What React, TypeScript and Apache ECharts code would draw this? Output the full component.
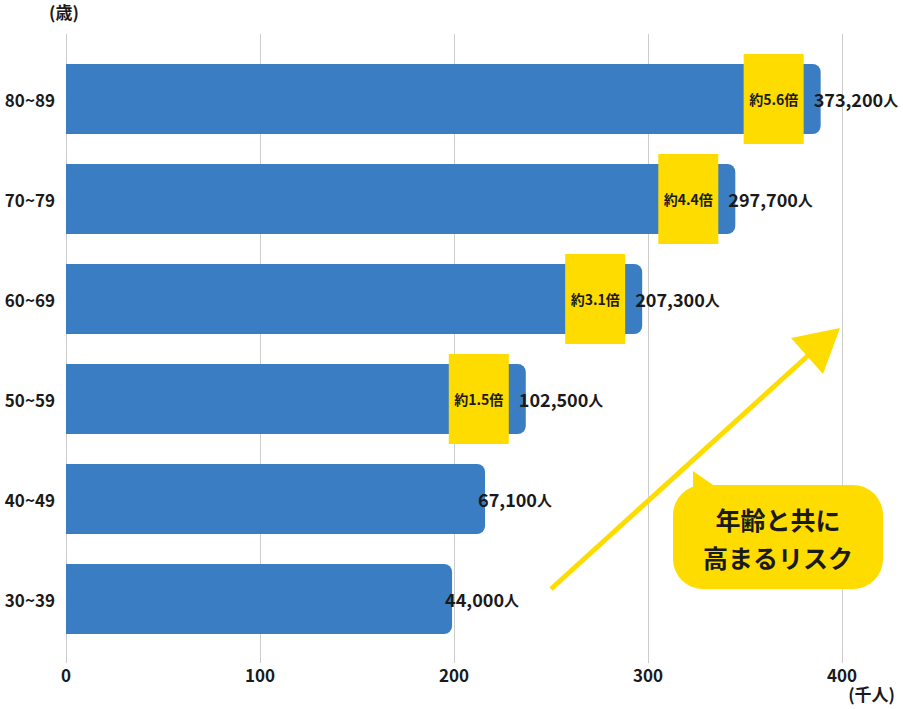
import React, { useEffect, useRef } from 'react';
import * as echarts from 'echarts';

const categories = ['30~39', '40~49', '50~59', '60~69', '70~79', '80~89'];
// bar lengths as drawn on the 千人 axis
const barValues = [199, 216, 237, 297, 345, 389];
const valueLabels = ['44,000', '67,100', '102,500', '207,300', '297,700', '373,200'];
const ratioLabels = ['', '', '約1.5倍', '約3.1倍', '約4.4倍', '約5.6倍'];
const xTicks = [0, 100, 200, 300, 400];

const FONT = '"Noto Sans CJK JP", "Noto Sans", sans-serif';
const BLUE = '#3a7dc2';
const YELLOW = '#ffdc00';
const TEXT = '#1a1a1a';

const App: React.FC = () => {
  const chartRef = useRef<HTMLDivElement>(null);

  useEffect(() => {
    if (!chartRef.current) return;
    const chart = echarts.init(chartRef.current, undefined, { renderer: 'svg' });

    const ratioData = barValues
      .map((v, i) => [v, i, ratioLabels[i]])
      .filter((d) => d[2] !== '');

    const option = {
      animation: false,
      textStyle: { fontFamily: FONT },
      grid: [
        { left: 66, right: 61, top: 34, bottom: 46 },
        { left: 66, right: 61, top: 49, height: 600 }
      ],
      xAxis: [
        {
          gridIndex: 0,
          type: 'value',
          min: xTicks[0],
          max: xTicks[xTicks.length - 1],
          interval: 100,
          axisLine: { show: false },
          axisTick: { show: false },
          splitLine: { show: true, lineStyle: { color: '#cccccc', width: 1 } },
          axisLabel: {
            margin: 3,
            color: TEXT,
            fontSize: 17,
            fontWeight: 'bold',
            fontFamily: FONT
          }
        },
        { gridIndex: 1, type: 'value', min: 0, max: 400, show: false }
      ],
      yAxis: [
        { gridIndex: 0, type: 'value', min: 0, max: 1, show: false },
        {
          gridIndex: 1,
          type: 'category',
          data: categories,
          axisLine: { show: false },
          axisTick: { show: false },
          splitLine: { show: false },
          axisLabel: {
            margin: 11,
            color: TEXT,
            fontSize: 17,
            fontWeight: 'bold',
            fontFamily: FONT
          }
        }
      ],
      series: [
        {
          type: 'bar',
          xAxisIndex: 1,
          yAxisIndex: 1,
          barWidth: 70,
          data: barValues,
          itemStyle: { color: BLUE, borderRadius: [0, 8, 8, 0] },
          label: {
            show: true,
            position: 'right',
            distance: -7,
            formatter: (p: any) => `{n|${valueLabels[p.dataIndex]}}{u|人}`,
            rich: {
              n: { fontSize: 18, fontWeight: 'bold', color: TEXT, fontFamily: FONT },
              u: { fontSize: 15, fontWeight: 'bold', color: TEXT, fontFamily: FONT }
            }
          },
          z: 2
        },
        {
          type: 'custom',
          xAxisIndex: 1,
          yAxisIndex: 1,
          z: 3,
          data: ratioData,
          renderItem: (params: any, api: any) => {
            const p = api.coord([api.value(0), api.value(1)]);
            const label = ratioData[params.dataIndex][2] as string;
            return {
              type: 'group',
              children: [
                {
                  type: 'rect',
                  shape: { x: p[0] - 77, y: p[1] - 45, width: 60, height: 90 },
                  style: { fill: YELLOW }
                },
                {
                  type: 'text',
                  x: p[0] - 47,
                  y: p[1],
                  style: {
                    text: label,
                    fill: TEXT,
                    font: `bold 14px ${FONT}`,
                    align: 'center',
                    verticalAlign: 'middle'
                  }
                }
              ]
            };
          }
        }
      ],
      graphic: [
        {
          type: 'text',
          left: 49,
          top: 3,
          style: { text: '(歳)', fill: TEXT, font: `bold 17px ${FONT}` }
        },
        {
          type: 'text',
          right: 8,
          top: 685,
          style: { text: '(千人)', fill: TEXT, font: `bold 17px ${FONT}` }
        },
        {
          type: 'line',
          shape: { x1: 551, y1: 589, x2: 812, y2: 352 },
          style: { stroke: YELLOW, lineWidth: 5 },
          z: 10
        },
        {
          type: 'polygon',
          shape: { points: [[840, 328], [791, 338], [823, 374]] },
          style: { fill: YELLOW },
          z: 10
        },
        {
          type: 'polygon',
          shape: { points: [[693, 471], [693, 495], [716, 487]] },
          style: { fill: YELLOW },
          z: 10
        },
        {
          type: 'rect',
          shape: { x: 673, y: 485, width: 210, height: 104, r: 30 },
          style: { fill: YELLOW },
          z: 10
        },
        {
          type: 'text',
          x: 778,
          y: 519,
          style: {
            text: '年齢と共に',
            fill: TEXT,
            font: `bold 25px ${FONT}`,
            align: 'center',
            verticalAlign: 'middle'
          },
          z: 11
        },
        {
          type: 'text',
          x: 778,
          y: 557,
          style: {
            text: '高まるリスク',
            fill: TEXT,
            font: `bold 25px ${FONT}`,
            align: 'center',
            verticalAlign: 'middle'
          },
          z: 11
        }
      ]
    };

    chart.setOption(option);
    const handleResize = () => chart.resize();
    window.addEventListener('resize', handleResize);
    return () => {
      window.removeEventListener('resize', handleResize);
      chart.dispose();
    };
  }, []);

  return (
    <div
      ref={chartRef}
      style={{ position: 'fixed', left: 0, top: 0, width: '903px', height: '709px', background: '#fff' }}
    />
  );
};

export default App;
